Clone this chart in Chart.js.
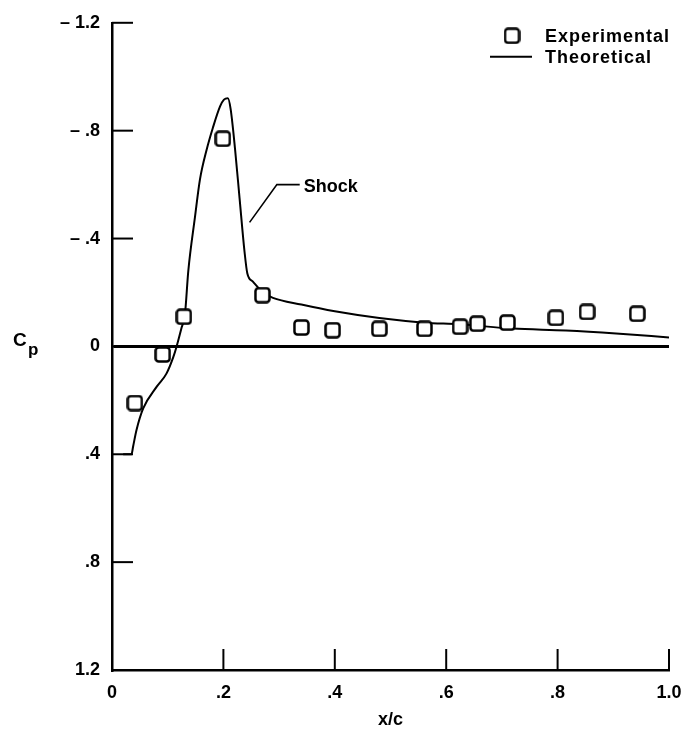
<!DOCTYPE html>
<html>
<head>
<meta charset="utf-8">
<script src="https://cdn.jsdelivr.net/npm/chart.js@4.4.1/dist/chart.umd.min.js"></script>
<style>
  body { margin: 0; background: #fff; }
  canvas { display: block; }
</style>
</head>
<body>
<canvas id="cpChart" width="694" height="731"></canvas>
<script>
const xTicks = [0, 0.2, 0.4, 0.6, 0.8, 1.0];
const xTickLabels = ['0', '.2', '.4', '.6', '.8', '1.0'];
const yTicks = [-1.2, -0.8, -0.4, 0, 0.4, 0.8, 1.2];
const yTickLabels = ['\u2013 1.2', '\u2013 .8', '\u2013 .4', '0', '.4', '.8', '1.2'];

// pressure taps
const expX  = [0.041, 0.091, 0.129, 0.199, 0.270, 0.340, 0.396, 0.480, 0.561, 0.625, 0.656, 0.710, 0.797, 0.853, 0.943];
const expCp = [0.21, 0.03, -0.11, -0.77, -0.19, -0.07, -0.06, -0.065, -0.065, -0.073, -0.084, -0.088, -0.106, -0.128, -0.121];

// computed distribution
const theoX  = [0.020, 0.035, 0.038, 0.044, 0.056, 0.080, 0.098, 0.110, 0.116, 0.125, 0.131, 0.137, 0.149, 0.158, 0.170, 0.181, 0.194, 0.201, 0.208, 0.213, 0.221, 0.229, 0.238, 0.243, 0.253, 0.271, 0.289, 0.340, 0.400, 0.480, 0.561, 0.624, 0.719, 0.815, 0.905, 1.000];
const theoCp = [0.40, 0.40, 0.37, 0.31, 0.23, 0.15, 0.10, 0.04, 0.00, -0.07, -0.12, -0.28, -0.48, -0.62, -0.73, -0.81, -0.89, -0.915, -0.92, -0.88, -0.73, -0.55, -0.35, -0.27, -0.24, -0.20, -0.18, -0.155, -0.13, -0.105, -0.088, -0.082, -0.066, -0.059, -0.048, -0.033];

const shockLeader = [[0.247, -0.46], [0.296, -0.60], [0.337, -0.60]];
const shockText = 'Shock';

const FONT = '"Liberation Sans", Arial, sans-serif';

function squareMarker() {
  const c = document.createElement('canvas');
  c.width = 17;
  c.height = 17;
  const g = c.getContext('2d');
  g.fillStyle = '#fff';
  g.strokeStyle = '#000';
  g.lineWidth = 2.5;
  g.beginPath();
  g.roundRect(1.5, 1.5, 14, 14, 3);
  g.fill();
  g.stroke();
  return c;
}
const marker = squareMarker();

function seg(ctx, x1, y1, x2, y2) {
  ctx.beginPath();
  ctx.moveTo(x1, y1);
  ctx.lineTo(x2, y2);
  ctx.stroke();
}

// inward ticks, legend, shock callout and the Cp label
const decorations = {
  id: 'decorations',
  afterDraw(chart) {
    const {ctx, chartArea: area, scales: {x, y}} = chart;
    ctx.save();
    ctx.strokeStyle = '#000';
    ctx.fillStyle = '#000';

    ctx.lineWidth = 2;
    yTicks.forEach(v => {
      const py = y.getPixelForValue(v);
      seg(ctx, area.left, py, area.left + 21, py);
    });
    xTicks.forEach(v => {
      const px = x.getPixelForValue(v);
      seg(ctx, px, area.bottom, px, area.bottom - 21);
    });

    // shock callout
    ctx.lineWidth = 1.6;
    ctx.beginPath();
    shockLeader.forEach(([vx, vy], i) => {
      const px = x.getPixelForValue(vx), py = y.getPixelForValue(vy);
      if (i === 0) ctx.moveTo(px, py); else ctx.lineTo(px, py);
    });
    ctx.stroke();
    const last = shockLeader[shockLeader.length - 1];
    ctx.font = 'bold 18px ' + FONT;
    ctx.textBaseline = 'middle';
    ctx.textAlign = 'left';
    ctx.fillText(shockText, x.getPixelForValue(last[0]) + 4, y.getPixelForValue(last[1]) + 2);

    // legend
    const lx = area.right - 124;
    ctx.drawImage(marker, area.right - 157 - 8.5, area.top + 13 - 8.5);
    ctx.lineWidth = 2;
    seg(ctx, area.right - 179, area.top + 34, area.right - 137, area.top + 34);
    ctx.letterSpacing = '1px';
    ctx.fillText('Experimental', lx, area.top + 14);
    ctx.fillText('Theoretical', lx, area.top + 35);
    ctx.letterSpacing = '0px';

    // Cp
    const zy = y.getPixelForValue(0);
    ctx.textBaseline = 'alphabetic';
    ctx.font = 'bold 19px ' + FONT;
    ctx.fillText('C', 13, zy);
    ctx.font = 'bold 17px ' + FONT;
    ctx.fillText('p', 28, zy + 9);
    ctx.restore();
  }
};

const experimental = expX.map((v, i) => ({x: v, y: expCp[i]}));
const theoretical = theoX.map((v, i) => ({x: v, y: theoCp[i]}));

new Chart(document.getElementById('cpChart'), {
  type: 'scatter',
  data: {
    datasets: [
      {
        label: 'Experimental',
        data: experimental,
        pointStyle: marker,
        pointRadius: 8,
        pointHoverRadius: 8
      },
      {
        label: 'Theoretical',
        data: theoretical,
        showLine: true,
        borderColor: '#000',
        borderWidth: 2,
        pointRadius: 0,
        cubicInterpolationMode: 'monotone'
      }
    ]
  },
  options: {
    responsive: false,
    animation: false,
    devicePixelRatio: 1,
    layout: { padding: { top: 15, right: 25, left: 0, bottom: 0 } },
    plugins: {
      legend: { display: false },
      tooltip: { enabled: false }
    },
    scales: {
      x: {
        type: 'linear',
        min: 0,
        max: 1,
        afterBuildTicks: s => { s.ticks = xTicks.map(v => ({value: v})); },
        afterFit: s => { s.height = 61; },
        grid: { display: false },
        border: { display: true, color: '#000', width: 2.5 },
        ticks: {
          padding: 4,
          color: '#000',
          font: { family: FONT, size: 18, weight: 'bold' },
          callback: (v, i) => xTickLabels[i]
        },
        title: {
          display: true,
          text: 'x/c',
          color: '#000',
          padding: { top: 8, bottom: 0 },
          font: { family: FONT, size: 18, weight: 'bold' }
        }
      },
      y: {
        type: 'linear',
        reverse: true,
        min: -1.2,
        max: 1.2,
        afterBuildTicks: s => { s.ticks = yTicks.map(v => ({value: v})); },
        afterFit: s => { s.width = 112; },
        grid: {
          drawTicks: false,
          lineWidth: 3,
          color: c => (c.tick && c.tick.value === 0 ? '#000' : 'rgba(0,0,0,0)')
        },
        border: { display: true, color: '#000', width: 2.5 },
        ticks: {
          padding: 12,
          color: '#000',
          font: { family: FONT, size: 18, weight: 'bold' },
          callback: (v, i) => yTickLabels[i]
        }
      }
    }
  },
  plugins: [decorations]
});
</script>
</body>
</html>
